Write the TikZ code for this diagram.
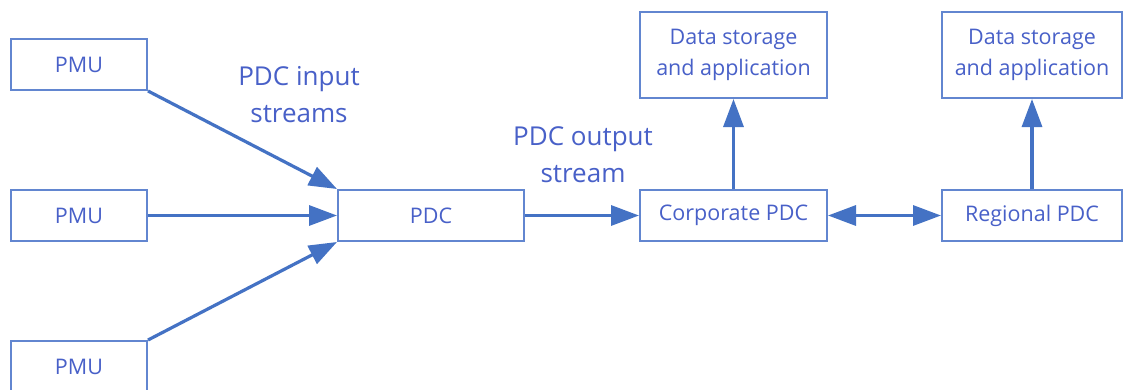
\documentclass[tikz,border=0pt]{standalone}
\usepackage{fontspec}
\setmainfont{Open Sans}
\usetikzlibrary{arrows.meta}
\definecolor{boxline}{RGB}{98,134,208}
\definecolor{flow}{RGB}{68,114,196}
\definecolor{labeltext}{RGB}{72,96,200}
\tikzset{
  unit/.style={draw=boxline, line width=2pt, fill=white, inner sep=0pt,
    text=labeltext, align=center, font=\fontsize{21.5}{31}\selectfont},
  flowarrow/.style={draw=flow, line width=3.2pt,
    -{Triangle[length=28pt,width=20pt]}},
  biarrow/.style={draw=flow, line width=3.2pt,
    {Triangle[length=28pt,width=20pt]}-{Triangle[length=28pt,width=20pt]}},
  streamlabel/.style={text=labeltext, align=center, inner sep=0pt,
    font=\fontsize{26}{37}\selectfont}
}
\begin{document}
\begin{tikzpicture}[x=1pt,y=-1pt]
  \useasboundingbox[fill=white] (0,0) rectangle (1124,389);
  \clip (0,0) rectangle (1124,389);

  % measurement units
  \node[unit, minimum width=136pt, minimum height=51pt] (pmu1) at (79,64.5) {PMU};
  \node[unit, minimum width=136pt, minimum height=51pt] (pmu2) at (79,215.5) {PMU};
  \node[unit, minimum width=136pt, minimum height=51pt] (pmu3) at (79,366.5) {PMU};

  % concentrators
  \node[unit, minimum width=186pt, minimum height=51pt] (pdc) at (431,215.5) {PDC};
  \node[unit, minimum width=187pt, minimum height=51pt] (corp) at (733.5,215.5) {Corporate PDC};
  \node[unit, minimum width=180pt, minimum height=51pt] (reg) at (1032,215.5) {Regional PDC};

  % storage and applications
  \node[unit, minimum width=187pt, minimum height=86pt] (ds1) at (733.5,55) {Data storage\\and application};
  \node[unit, minimum width=180pt, minimum height=86pt] (ds2) at (1032,55) {Data storage\\and application};

  % stream labels
  \node[streamlabel] (inlbl) at (299,95) {PDC input\\streams};
  \node[streamlabel] (outlbl) at (583,155) {PDC output\\stream};

  % connectors
  \draw[flowarrow] (pmu1.south east) -- (pdc.north west);
  \draw[flowarrow] (pmu2.east) -- (pdc.west);
  \draw[flowarrow] (pmu3.north east) -- (pdc.south west);
  \draw[flowarrow] (pdc.east) -- (corp.west);
  \draw[biarrow] (corp.east) -- (reg.west);
  \draw[flowarrow] (corp.north) -- (ds1.south);
  \draw[flowarrow] (reg.north) -- (ds2.south);
\end{tikzpicture}
\end{document}
